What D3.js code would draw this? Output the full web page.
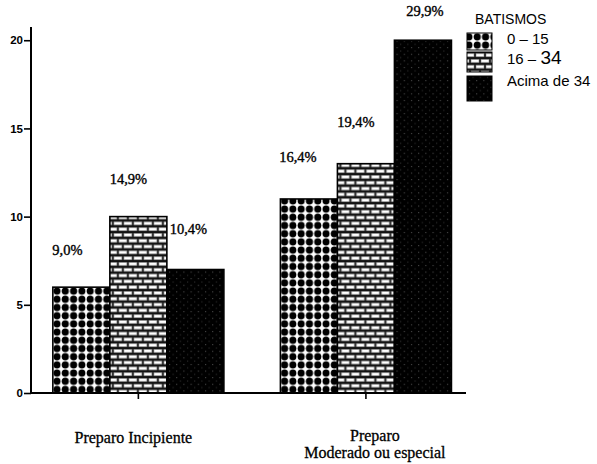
<!DOCTYPE html>
<html>
<head>
<meta charset="utf-8">
<script src="https://cdn.jsdelivr.net/npm/d3@7"></script>
<style>
  html, body { margin: 0; padding: 0; background: #fff; }
  svg { display: block; }
</style>
</head>
<body>
<svg id="chart" width="597" height="464"></svg>
<script>
// Categories, series and values (counts; labels show the share in %)
const groups = ["Preparo Incipiente", "Preparo\nModerado ou especial"];
const series = ["0 – 15", "16 – 34", "Acima de 34"];
const counts = [
  [6, 10, 7],
  [11, 13, 20]
];
const percentLabels = [
  ["9,0%", "14,9%", "10,4%"],
  ["16,4%", "19,4%", "29,9%"]
];
const yTicks = [0, 5, 10, 15, 20];
const legendTitle = "BATISMOS";

// Per-label nudges [dx, dy] relative to the top centre of each bar
const labelNudge = [
  [[-14, -32], [-10, -33], [-7, -36]],
  [[-11, -37], [-10, -37], [2, -24]]
];

const svg = d3.select("#chart");
const defs = svg.append("defs");

// Fill patterns: dots, bricks, dark speckle
const pDots = defs.append("pattern").attr("id", "pat-dots")
  .attr("patternUnits", "userSpaceOnUse").attr("width", 8.3).attr("height", 8.2);
pDots.append("rect").attr("width", 8.3).attr("height", 8.2).attr("fill", "#fff");
pDots.append("circle").attr("cx", 4.15).attr("cy", 4.1).attr("r", 3.55).attr("fill", "#000");

const pBricks = defs.append("pattern").attr("id", "pat-bricks")
  .attr("patternUnits", "userSpaceOnUse").attr("width", 10).attr("height", 11.6);
pBricks.append("rect").attr("width", 10).attr("height", 11.6).attr("fill", "#111");
[[1, 1.4], [6, 7.2], [-4, 7.2]].forEach(([bx, by]) => {
  pBricks.append("rect").attr("x", bx).attr("y", by).attr("width", 8).attr("height", 3.2)
    .attr("fill", "#fff").attr("stroke", "#888").attr("stroke-width", 0.6);
});

const pDark = defs.append("pattern").attr("id", "pat-dark")
  .attr("patternUnits", "userSpaceOnUse").attr("width", 7.2).attr("height", 6.6);
pDark.append("rect").attr("width", 7.2).attr("height", 6.6).attr("fill", "#000");
pDark.append("rect").attr("x", 1).attr("y", 1).attr("width", 1).attr("height", 1).attr("fill", "#5a5a5a");
pDark.append("rect").attr("x", 4.6).attr("y", 4.3).attr("width", 1).attr("height", 1).attr("fill", "#3a3a3a");

const fills = ["url(#pat-dots)", "url(#pat-bricks)", "url(#pat-dark)"];

// Scales
const x0 = d3.scaleBand().domain(groups).range([31, 466])
  .paddingInner(0.2484).paddingOuter(0.08).align(0.6);
const x1 = d3.scaleBand().domain(series).range([0, x0.bandwidth()]);
const y = d3.scaleLinear().domain([0, 20.75]).range([393, 27]);

const serif = "'Liberation Serif', 'Times New Roman', serif";
const sans = "'Liberation Sans', Arial, sans-serif";

// Bars
const g = svg.append("g");
groups.forEach((grp, gi) => {
  const gg = g.append("g").attr("transform", `translate(${x0(grp)},0)`);
  gg.selectAll("rect")
    .data(series.map((s, si) => ({ s, si, v: counts[gi][si] })))
    .join("rect")
    .attr("x", d => x1(d.s))
    .attr("y", d => y(d.v))
    .attr("width", x1.bandwidth())
    .attr("height", d => y(0) - y(d.v))
    .attr("fill", d => fills[d.si])
    .attr("stroke", "#000")
    .attr("stroke-width", 1.6);

  gg.selectAll("text")
    .data(series.map((s, si) => ({ s, si, v: counts[gi][si] })))
    .join("text")
    .attr("x", d => x1(d.s) + x1.bandwidth() / 2 + labelNudge[gi][d.si][0])
    .attr("y", d => y(d.v) + labelNudge[gi][d.si][1])
    .attr("text-anchor", "middle")
    .attr("font-family", serif)
    .attr("font-size", 14.5)
    .attr("fill", "#000")
    .attr("stroke", "#000").attr("stroke-width", 0.35)
    .text(d => percentLabels[gi][d.si]);
});

// Y axis
const yAxis = d3.axisLeft(y).tickValues(yTicks).tickSize(7).tickPadding(1).tickFormat(d3.format("d"));
const ya = svg.append("g").attr("transform", "translate(31,0)").call(yAxis);
ya.select(".domain").attr("d", `M0,${y(20.75)}V${y(0)}`).attr("stroke-width", 2);
ya.selectAll(".tick line").attr("stroke-width", 1.6);
ya.selectAll(".tick text")
  .attr("font-family", sans)
  .attr("font-size", 11.5).attr("font-weight", "bold").attr("fill", "#000");

// X axis
const xAxis = d3.axisBottom(x0).tickSize(6).tickFormat("");
const xa = svg.append("g").attr("transform", `translate(0,${y(0)})`).call(xAxis);
xa.select(".domain").attr("d", `M31,0H466`).attr("stroke-width", 2);
xa.selectAll(".tick line").attr("stroke-width", 1.6);

// Category labels
const catDx = [-5, 9];
groups.forEach((grp, gi) => {
  const lines = grp.split("\n");
  const cx = x0(grp) + x0.bandwidth() / 2 + catDx[gi];
  const t = svg.append("text")
    .attr("x", cx)
    .attr("y", lines.length === 1 ? 443 : 441)
    .attr("text-anchor", "middle")
    .attr("font-family", serif)
    .attr("font-size", 16)
    .attr("fill", "#000")
    .attr("stroke", "#000").attr("stroke-width", 0.3);
  lines.forEach((ln, li) => {
    t.append("tspan").attr("x", cx).attr("dy", li === 0 ? 0 : 17).text(ln);
  });
});

// Legend
const lg = svg.append("g").attr("font-family", sans).attr("fill", "#000");
lg.append("text").attr("x", 475).attr("y", 24).attr("font-size", 14).text(legendTitle);
const swatchBoxes = [[33, 17], [52, 20], [76, 25]];
const labelBaselines = [44, 64, 86];
series.forEach((s, si) => {
  lg.append("rect")
    .attr("x", 467).attr("y", swatchBoxes[si][0])
    .attr("width", 25).attr("height", swatchBoxes[si][1])
    .attr("fill", fills[si]).attr("stroke", "#000").attr("stroke-width", 1);
  const t = lg.append("text").attr("x", 507).attr("y", labelBaselines[si]).attr("font-size", 15);
  if (s === "16 – 34") {
    t.append("tspan").text("16 – ");
    t.append("tspan").attr("font-size", 19).text("34");
  } else {
    t.text(s);
  }
});
</script>
</body>
</html>
